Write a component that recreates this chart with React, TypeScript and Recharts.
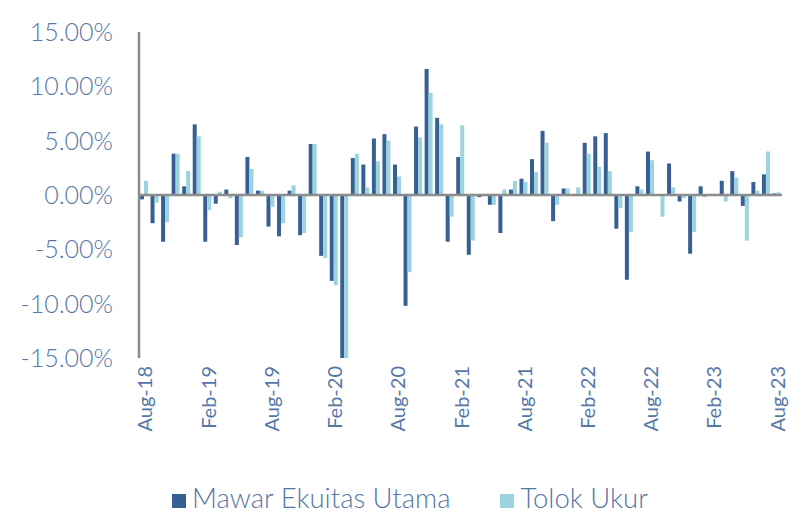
import React from "react";
import { BarChart, Bar, XAxis, YAxis, ReferenceLine, Legend } from "recharts";

const months = [
  "Aug-18","Sep-18","Oct-18","Nov-18","Dec-18","Jan-19","Feb-19","Mar-19","Apr-19","May-19","Jun-19","Jul-19",
  "Aug-19","Sep-19","Oct-19","Nov-19","Dec-19","Jan-20","Feb-20","Mar-20","Apr-20","May-20","Jun-20","Jul-20",
  "Aug-20","Sep-20","Oct-20","Nov-20","Dec-20","Jan-21","Feb-21","Mar-21","Apr-21","May-21","Jun-21","Jul-21",
  "Aug-21","Sep-21","Oct-21","Nov-21","Dec-21","Jan-22","Feb-22","Mar-22","Apr-22","May-22","Jun-22","Jul-22",
  "Aug-22","Sep-22","Oct-22","Nov-22","Dec-22","Jan-23","Feb-23","Mar-23","Apr-23","May-23","Jun-23","Jul-23",
  "Aug-23",
];

const mawar = [
  -0.4, -2.6, -4.3, 3.8, 0.8, 6.5, -4.3, -0.8, 0.5, -4.6, 3.5, 0.4,
  -2.9, -3.8, 0.4, -3.7, 4.7, -5.6, -7.9, -16.5, 3.4, 2.8, 5.2, 5.6,
  2.8, -10.2, 6.3, 11.6, 7.1, -4.3, 3.5, -5.5, -0.2, -0.9, -3.5, 0.5,
  1.5, 3.3, 5.9, -2.4, 0.6, 0.0, 4.8, 5.4, 5.7, -3.1, -7.8, 0.8,
  4.0, 0.0, 2.9, -0.6, -5.4, 0.8, 0.0, 1.3, 2.2, -1.0, 1.2, 1.9,
  0.15,
];

const tolok = [
  1.3, -0.7, -2.5, 3.8, 2.2, 5.4, -1.4, 0.3, -0.3, -3.9, 2.4, 0.4,
  -1.1, -2.6, 0.9, -3.5, 4.7, -5.8, -8.3, -16.8, 3.8, 0.7, 3.1, 5.0,
  1.7, -7.1, 5.3, 9.4, 6.5, -2.0, 6.4, -4.2, 0.1, -0.9, 0.5, 1.3,
  1.2, 2.1, 4.8, -0.9, 0.6, 0.7, 3.8, 2.6, 2.2, -1.2, -3.4, 0.5,
  3.2, -2.0, 0.7, -0.3, -3.4, -0.2, 0.1, -0.6, 1.6, -4.2, 0.4, 4.0,
  0.25,
];

const yTicks = [-15, -10, -5, 0, 5, 10, 15];

const seriesNames = ["Mawar Ekuitas Utama", "Tolok Ukur"];
const seriesColors = ["#365F94", "#9BD3DF"];

const data = months.map((m, i) => ({ m, a: mawar[i], b: tolok[i] }));

const TEXT = "#5577A8";
const FONT = "Lato, 'Open Sans', sans-serif";

const XTick = (props: any) => {
  const { x, y, payload } = props;
  return (
    <g transform={`translate(${x},${y})`}>
      <text
        transform="rotate(-90)"
        x={-2}
        y={0}
        textAnchor="end"
        dominantBaseline="central"
        fill={TEXT}
        fontSize={20}
        fontFamily={FONT}
        fontWeight={400}
      >
        {payload.value}
      </text>
    </g>
  );
};

const LegendContent = () => (
  <div
    style={{
      display: "flex",
      justifyContent: "center",
      alignItems: "center",
      fontFamily: FONT,
      fontWeight: 300,
      fontSize: 27.5,
      lineHeight: "24px",
      color: TEXT,
      gap: 50,
      marginTop: 18,
      paddingLeft: 38,
    }}
  >
    {seriesNames.map((n, i) => (
      <div key={n} style={{ display: "flex", alignItems: "center" }}>
        <span style={{ width: 14, height: 14, background: seriesColors[i], display: "inline-block", marginRight: 6, marginTop: 6 }} />
        <span>{n}</span>
      </div>
    ))}
  </div>
);

export default function App() {
  return (
    <div style={{ position: "absolute", left: 0, top: 0, width: 804, height: 514, background: "#fff" }}>
      <BarChart
        width={804}
        height={514}
        data={data}
        margin={{ top: 32, right: 22, left: 0, bottom: 0 }}
        barGap={0}
        barSize={4}
      >
        <XAxis
          dataKey="m"
          interval={5}
          axisLine={false}
          tickLine={false}
          tick={<XTick />}
          tickMargin={0}
          height={110}
        />
        <YAxis
          domain={[-15, 15]}
          ticks={yTicks}
          allowDataOverflow
          width={139}
          axisLine={{ stroke: "#8C8C8C", strokeWidth: 2.5 }}
          tickLine={false}
          tickMargin={20}
          tickFormatter={(v: number) => v.toFixed(2) + "%"}
          tick={{ fill: TEXT, fontSize: 25, fontFamily: FONT, fontWeight: 300 }}
        />
        <ReferenceLine y={0} stroke="#8C8C8C" strokeWidth={2.5} />
        <Bar dataKey="a" name={seriesNames[0]} fill={seriesColors[0]} isAnimationActive={false} />
        <Bar dataKey="b" name={seriesNames[1]} fill={seriesColors[1]} isAnimationActive={false} />
        <Legend verticalAlign="bottom" height={46} content={<LegendContent />} />
      </BarChart>
    </div>
  );
}
